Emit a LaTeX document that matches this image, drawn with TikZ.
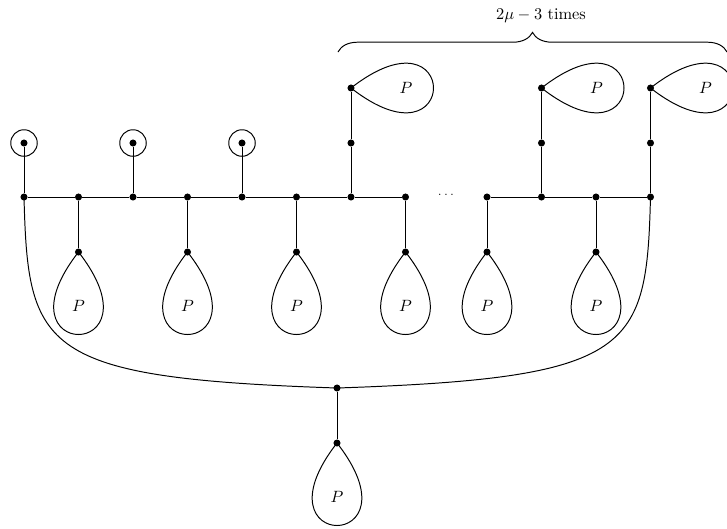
\documentclass[tikz,border=0pt]{standalone}
\usetikzlibrary{decorations.pathreplacing}
\begin{document}
\begin{tikzpicture}[x=0.0215cm,y=-0.0215cm,
  dot/.style={circle,fill=black,inner sep=0pt,minimum size=4.3pt},
  ring/.style={circle,draw,line width=0.6pt,inner sep=0pt,minimum size=0.57cm},
  lbl/.style={inner sep=1pt},
  edge/.style={line width=0.6pt}]
\useasboundingbox (0,0) rectangle (727,528);
% main line nodes
\foreach \n/\x in {a1/24,a2/78.5,a3/133,a4/187.5,a5/242,a6/296.5,a7/351,a8/405.5,a9/487,a10/541.5,a11/596,a12/650.5}
  \node[dot] (\n) at (\x,197) {};
\draw[edge] (a1) -- (a2) -- (a3) -- (a4) -- (a5) -- (a6) -- (a7) -- (a8);
\draw[edge] (a9) -- (a10) -- (a11) -- (a12);
\node[font=\scriptsize,inner sep=0pt] (dd) at (446,195) {$\dots$};
% circled pendants
\foreach \n/\x in {1/24,3/133,5/242}{
  \node[dot] (c\n) at (\x,143) {};
  \node[ring] (r\n) at (\x,143) {};
  \draw[edge] (c\n) -- (a\n);
}
% lower loops
\foreach \n/\x in {2/78.5,4/187.5,6/296.5,8/405.5,9/487,11/596}{
  \node[dot] (b\n) at (\x,252) {};
  \draw[edge] (a\n) -- (b\n);
  \draw[edge] (b\n.center) .. controls ([shift={(-86,110)}]b\n.center) and ([shift={(86,110)}]b\n.center) .. (b\n.center);
  \node[lbl] (p\n) at (\x,306) {$P$};
}
% upper chains
\foreach \n/\x in {7/351,10/541.5,12/650.5}{
  \node[dot] (m\n) at (\x,143) {};
  \node[dot] (t\n) at (\x,88) {};
  \draw[edge] (a\n) -- (m\n) -- (t\n);
  \draw[edge] (t\n.center) .. controls ([shift={(110,-86)}]t\n.center) and ([shift={(110,86)}]t\n.center) .. (t\n.center);
  \node[lbl] (q\n) at (\x+55,88) {$P$};
}
% bottom
\node[dot] (z1) at (337,388) {};
\node[dot] (z2) at (337,443) {};
\draw[edge] (z1) -- (z2);
\draw[edge] (z2.center) .. controls ([shift={(-86,110)}]z2.center) and ([shift={(86,110)}]z2.center) .. (z2.center);
\node[lbl] (pz) at (337,497) {$P$};
\draw[edge] (a1.center) .. controls (28,350) and (40,378) .. (z1.center);
\draw[edge] (a12.center) .. controls (646.5,350) and (634.5,378) .. (z1.center);
% brace
\coordinate (bl) at (338,52);
\coordinate (br) at (727,52);
\draw[edge,decorate,decoration={brace,amplitude=12pt}] (bl) -- (br);
\node[inner sep=0pt] (bt) at (541,16) {$2\mu-3$ times};
\end{tikzpicture}
\end{document}
